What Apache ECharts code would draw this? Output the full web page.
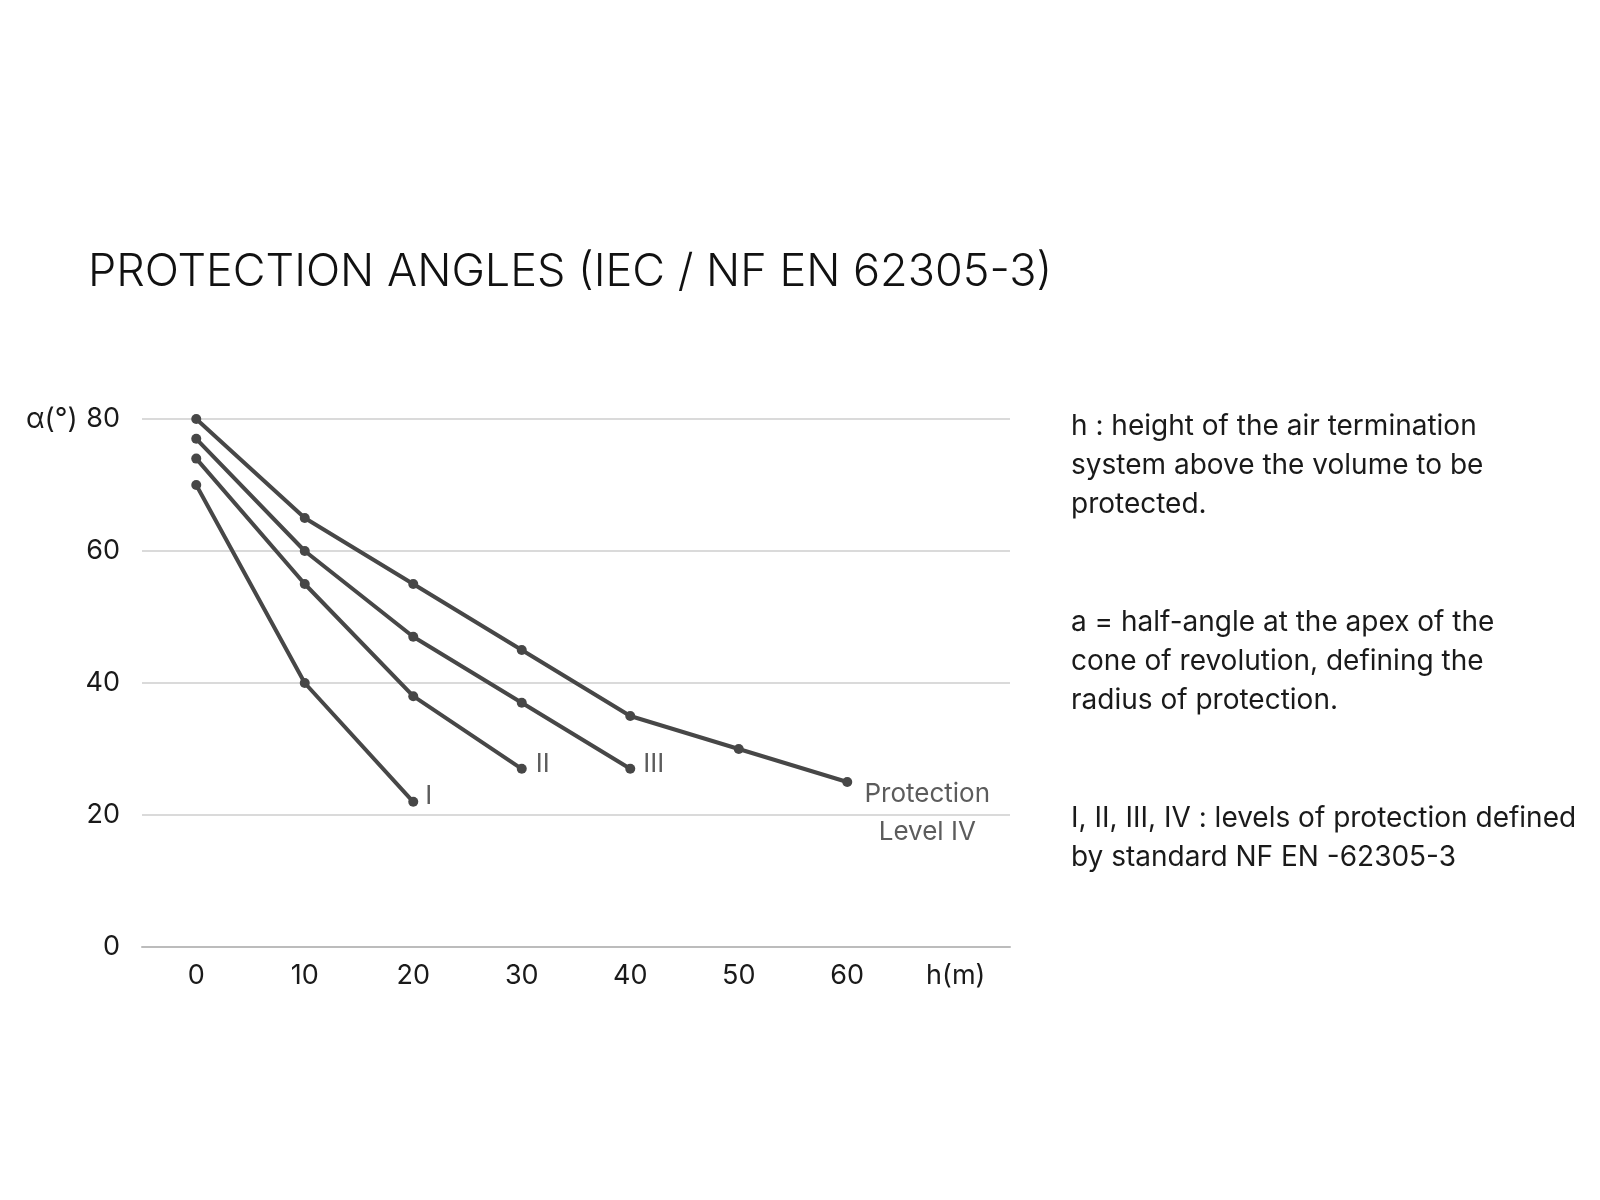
<!DOCTYPE html>
<html>
<head>
<meta charset="utf-8">
<title>Protection angles</title>
<script src="https://cdn.jsdelivr.net/npm/echarts@6/dist/echarts.min.js"></script>
<style>
  html, body { margin: 0; padding: 0; background: #fff; }
  #chart { width: 1600px; height: 1200px; }
</style>
</head>
<body>
<div id="chart"></div>
<script>
'use strict';

// Heights h (m) and protection half-angles α (°) per level
const levelNames = ['I', 'II', 'III', 'Protection\nLevel IV'];
const heights = [0, 10, 20, 30, 40, 50, 60];
const levelI = [70, 40, 22];
const levelII = [74, 55, 38, 27];
const levelIII = [77, 60, 47, 37, 27];
const levelIV = [80, 65, 55, 45, 35, 30, 25];
const xTicks = [0, 10, 20, 30, 40, 50, 60];
const yTicks = [0, 20, 40, 60, 80];

const INK = '#1a1a1a';
const LINE = '#474747';
const FONT = 'Inter, "Open Sans", sans-serif';

// where each end label sits relative to the last point
const endLabels = [
  { offset: [7, -6], align: 'left' },
  { offset: [9, -5], align: 'left' },
  { offset: [8, -5], align: 'left' },
  { offset: [75, 31], align: 'center', lineHeight: 38 },
];

const makeSeries = (vals, idx) => ({
  type: 'line',
  name: levelNames[idx],
  symbol: 'circle',
  symbolSize: 10,
  showSymbol: true,
  lineStyle: { color: LINE, width: 4, cap: 'round', join: 'round' },
  itemStyle: { color: LINE },
  label: { show: false },
  emphasis: { disabled: true },
  z: 3,
  data: vals.map((v, i) => {
    const item = { value: [heights[i], v] };
    if (i === vals.length - 1) {
      const e = endLabels[idx];
      item.label = {
        show: true,
        position: 'right',
        distance: 0,
        formatter: levelNames[idx],
        color: '#5c5c5c',
        fontFamily: FONT,
        fontSize: 26,
        align: e.align,
        verticalAlign: 'middle',
        lineHeight: e.lineHeight || 30,
        offset: e.offset,
      };
    }
    return item;
  }),
});

const chart = echarts.init(document.getElementById('chart'));
chart.setOption({
  backgroundColor: '#fff',
  animation: false,
  grid: { left: 142, right: 590, top: 419, bottom: 253, containLabel: false },
  xAxis: {
    type: 'value',
    min: -5,
    max: 75,
    interval: 5,
    axisLine: { show: true, lineStyle: { color: '#bcbcbc', width: 2 } },
    axisTick: { show: false },
    splitLine: { show: false },
    axisLabel: {
      margin: 15,
      color: INK,
      fontFamily: FONT,
      fontSize: 27,
      showMinLabel: true,
      showMaxLabel: true,
      formatter: (v) => {
        if (xTicks.indexOf(v) !== -1) return String(v);
        if (v === 70) return 'h(m)';
        return '';
      },
    },
  },
  yAxis: {
    type: 'value',
    min: yTicks[0],
    max: yTicks[yTicks.length - 1],
    interval: 20,
    axisLine: { show: false },
    axisTick: { show: false },
    splitLine: { show: true, lineStyle: { color: '#dadada', width: 2 } },
    axisLabel: { margin: 22, color: INK, fontFamily: FONT, fontSize: 27 },
  },
  graphic: [
    {
      type: 'text',
      left: 88,
      top: 250,
      style: {
        text: 'PROTECTION ANGLES (IEC / NF EN 62305-3)',
        fill: '#111',
        font: '300 45px ' + FONT,
      },
    },
    {
      type: 'text',
      x: 26,
      y: 420,
      style: { text: 'α(°)', fill: INK, font: '28px ' + FONT, verticalAlign: 'middle' },
    },
    {
      type: 'text',
      left: 1071,
      top: 407,
      style: {
        text: 'h : height of the air termination\nsystem above the volume to be\nprotected.',
        fill: INK,
        font: '28px ' + FONT,
        lineHeight: 39,
      },
    },
    {
      type: 'text',
      left: 1071,
      top: 603,
      style: {
        text: 'a = half-angle at the apex of the\ncone of revolution, defining the\nradius of protection.',
        fill: INK,
        font: '28px ' + FONT,
        lineHeight: 39,
      },
    },
    {
      type: 'text',
      left: 1071,
      top: 799,
      style: {
        text: 'I, II, III, IV : levels of protection defined\nby standard NF EN -62305-3',
        fill: INK,
        font: '28px ' + FONT,
        lineHeight: 39,
      },
    },
  ],
  series: [levelI, levelII, levelIII, levelIV].map(makeSeries),
});
window.addEventListener('resize', () => chart.resize());
</script>
</body>
</html>
